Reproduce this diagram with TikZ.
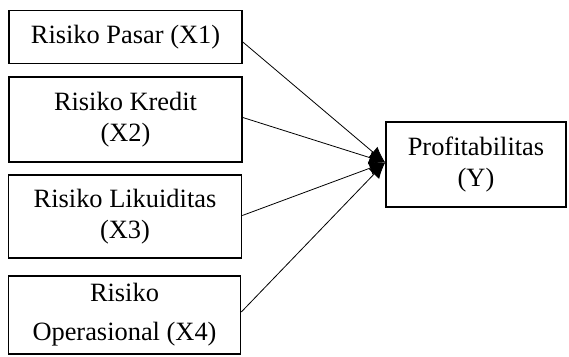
\documentclass[tikz,border=0pt]{standalone}
\usepackage{fontspec}
\setmainfont{Liberation Serif}
\usetikzlibrary{arrows.meta,calc}
\begin{document}
\begin{tikzpicture}[x=1pt,y=-1pt,
  box/.style={draw=black,line width=1.6pt,inner sep=0pt,align=center,
    font=\fontsize{26.4}{31}\selectfont},
  conn/.style={draw=black,line width=0.8pt,-{Latex[length=16pt,width=14pt]}}]
\useasboundingbox (0,0) rectangle (569,356);
\node[box,minimum width=233pt,minimum height=53pt] (x1) at (125.5,37) {Risiko Pasar (X1)};
\node[box,minimum width=233pt,minimum height=85pt] (x2) at (125.5,119.5) {Risiko Kredit\\(X2)};
\node[box,minimum width=233pt,minimum height=83pt] (x3) at (125,216.5) {Risiko Likuiditas\\(X3)};
\node[box,minimum width=232pt,minimum height=78pt] (x4) at (124.5,315) {Risiko\\[8pt]Operasional (X4)};
\node[box,minimum width=180pt,minimum height=85pt] (y) at (476,164.5) {Profitabilitas\\(Y)};
\coordinate (t) at ($(y.west)+(0,-2)$);
\draw[conn] ($(x1.east)+(0,5)$) -- (t);
\draw[conn] ($(x2.east)+(0,-2)$) -- (t);
\draw[conn] ($(x3.east)+(0,-1)$) -- (t);
\draw[conn] ($(x4.east)+(0,-3)$) -- (t);
\end{tikzpicture}
\end{document}
